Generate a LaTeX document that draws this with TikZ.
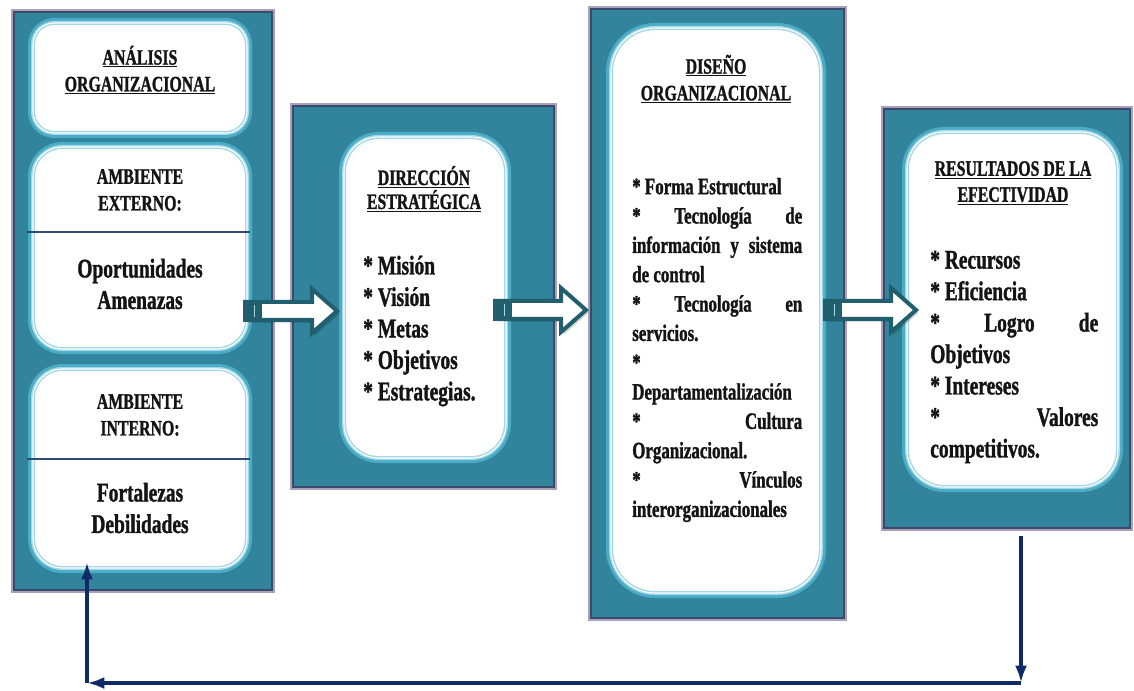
\documentclass[tikz,border=0pt]{standalone}
\usepackage{fontspec}
\setmainfont{Liberation Serif}[FakeStretch=0.72, BoldFeatures={FakeBold=1.2}]
\usetikzlibrary{fit,arrows.meta,calc}

\definecolor{panelteal}{HTML}{31849B}
\definecolor{panelrim}{HTML}{3B4A6A}
\definecolor{panelhalo}{HTML}{ABA0BC}
\definecolor{ringblue}{HTML}{4BACC6}
\definecolor{ringpale}{HTML}{A5D8E6}
\definecolor{arrowteal}{HTML}{215F6F}
\definecolor{loopnavy}{HTML}{0F2A66}
\definecolor{divblue}{HTML}{2E4A7A}
\definecolor{ink}{HTML}{141414}

\newlength\colw

% underlined heading word with a slightly heavier rule
\newcommand\hd[1]{\underline{#1}}

\tikzset{
  panel/.style={fill=panelteal, draw=panelrim, line width=2.2pt, inner sep=0pt,
    preaction={draw=panelhalo, line width=3.8pt}},
  card/.style={fill=white, inner sep=0pt, rounded corners=#1,
    preaction={draw=ringblue, line width=7.5pt},
    postaction={draw=ringpale, line width=3pt},
    postaction={draw=white, line width=0.8pt}},
  heading/.style={font=\fontsize{16.5}{20}\selectfont\bfseries, text=ink,
    align=center, inner sep=0pt},
  label/.style={font=\fontsize{16.5}{20}\selectfont\bfseries, text=ink,
    align=center, inner sep=0pt},
  bigitem/.style={font=\fontsize{20.25}{23.6}\selectfont\bfseries, text=ink,
    align=center, inner sep=0pt},
  listitems/.style={font=\fontsize{20.25}{23.6}\selectfont\bfseries, text=ink,
    align=left, inner sep=0pt, anchor=west},
  denseitems/.style={font=\fontsize{17.6}{22}\selectfont\bfseries, text=ink,
    align=left, inner sep=0pt, anchor=west},
  divider/.style={draw=divblue, line width=1.1pt},
  barrow/.style={draw=arrowteal, fill=white, line width=3pt, line join=miter},
  feedback/.style={draw=loopnavy, line width=2.6pt,
    -{Latex[length=13pt,width=9pt]}},
}

% block arrow from tail coordinate #1 to tip coordinate #2 (horizontal)
\newcommand\blockarrow[2]{%
  \fill[black, opacity=0.18] let \p1=(#1), \p2=(#2) in
    (\x1+2pt,\y1+5pt) -- (\x2-16.75pt,\y1+5pt) -- (\x2-16.75pt,\y1+14.5pt)
    -- (\x2+2pt,\y1-2pt) -- (\x2-16.75pt,\y1-18.5pt) -- (\x2-16.75pt,\y1-8.75pt)
    -- (\x1+2pt,\y1-8.75pt) -- cycle;
  \draw[barrow] let \p1=(#1), \p2=(#2) in
    (\x1,\y1+6.75pt) -- (\x2-18.75pt,\y1+6.75pt) -- (\x2-18.75pt,\y1+16.5pt)
    -- (\x2,\y1) -- (\x2-18.75pt,\y1-16.5pt) -- (\x2-18.75pt,\y1-6.75pt)
    -- (\x1,\y1-6.75pt) -- cycle;
  \fill[arrowteal] let \p1=(#1) in
    (\x1-1.5pt,\y1-8.25pt) rectangle (\x1+13pt,\y1+8.25pt);
  \draw[ringpale, line width=0.8pt] let \p1=(#1) in
    (\x1+7pt,\y1-4.5pt) -- (\x1+7pt,\y1+4.5pt);
}

\begin{document}
\begin{tikzpicture}[x=0.75pt, y=-0.75pt]
\useasboundingbox (0,0) rectangle (1134,691);

% outer panels
\node[panel, fit={(14,12) (272,590)}] (p1) {};
\node[panel, fit={(293,106) (554,487)}] (p2) {};
\node[panel, fit={(591,9) (844,618)}] (p3) {};
\node[panel, fit={(884,109) (1130,528)}] (p4) {};

% white cards inside the panels
\node[card=16pt, fit={(33,23) (247,133)}] (c1) {};
\node[card=22pt, fit={(33,147) (247,349)}] (c2) {};
\node[card=22pt, fit={(33,369) (247,568)}] (c3) {};
\node[card=26pt, fit={(344,137) (506,458)}] (c4) {};
\node[card=33pt, fit={(611,28) (821,593)}] (c5) {};
\node[card=28pt, fit={(907,132) (1118,487)}] (c6) {};

% separators in the environment cards
\draw[divider] (27,232) -- (250,232);
\draw[divider] (27,459) -- (250,459);

% texts: organizational analysis
\node[heading] (t1) at (140,70) {\hd{ANÁLISIS}\\\hd{ORGANIZACIONAL}};
\node[label] (t2) at (140,190) {AMBIENTE\\EXTERNO:};
\node[bigitem] (t3) at (140,284) {Oportunidades\\Amenazas};
\node[label] (t4) at (140,415) {AMBIENTE\\INTERNO:};
\node[bigitem] (t5) at (140,508) {Fortalezas\\Debilidades};

% strategic direction
\node[heading, font=\fontsize{16.5}{18}\selectfont\bfseries] (t6) at (424,189)
  {\hd{DIRECCIÓN}\\\hd{ESTRATÉGICA}};
\node[listitems] (t7) at (363,331)
  {* Misión\\* Visión\\* Metas\\* Objetivos\\* Estrategias.};

% organizational design
\node[heading] (t8) at (716,79) {\hd{DISEÑO}\\\hd{ORGANIZACIONAL}};
\setlength\colw{127.5pt}
\node[denseitems] (t9) at (632,350)
  {* Forma Estructural\\
   \hbox to \colw{*\hfill Tecnología\hfill de}\\
   \hbox to \colw{información\hfill y\hfill sistema}\\
   de control\\
   \hbox to \colw{*\hfill Tecnología\hfill en}\\
   servicios.\\
   *\\
   Departamentalización\\
   \hbox to \colw{*\hfill Cultura}\\
   Organizacional.\\
   \hbox to \colw{*\hfill Vínculos}\\
   interorganizacionales};

% effectiveness results
\node[heading, font=\fontsize{16.5}{19.5}\selectfont\bfseries] (t10) at (1013,183)
  {\hd{RESULTADOS DE LA}\\\hd{EFECTIVIDAD}};
\node[listitems] (t11) at (930,357)
  {* Recursos\\
   * Eficiencia\\
   \hbox to 126pt{*\hfill Logro\hfill de}\\
   Objetivos\\
   * Intereses\\
   \hbox to 126pt{*\hfill Valores}\\
   competitivos.};

% flow between the stages
\coordinate (a1s) at (245,311);
\coordinate (a1e) at (337,311);
\coordinate (a2s) at (495,310);
\coordinate (a2e) at (586,310);
\coordinate (a3s) at (825,310);
\coordinate (a3e) at (916,310);
\blockarrow{a1s}{a1e}
\blockarrow{a2s}{a2e}
\blockarrow{a3s}{a3e}

% feedback loop back to the analysis
\coordinate (f1) at (1021,536);
\coordinate (f2) at (1021,683);
\coordinate (f3) at (87,683);
\coordinate (f4) at (87,562);
\draw[feedback] (f1) -- (f2);
\draw[feedback, line width=3.2pt] (f2) -- (f3);
\draw[feedback] (f3) -- (f4);
\end{tikzpicture}
\end{document}
